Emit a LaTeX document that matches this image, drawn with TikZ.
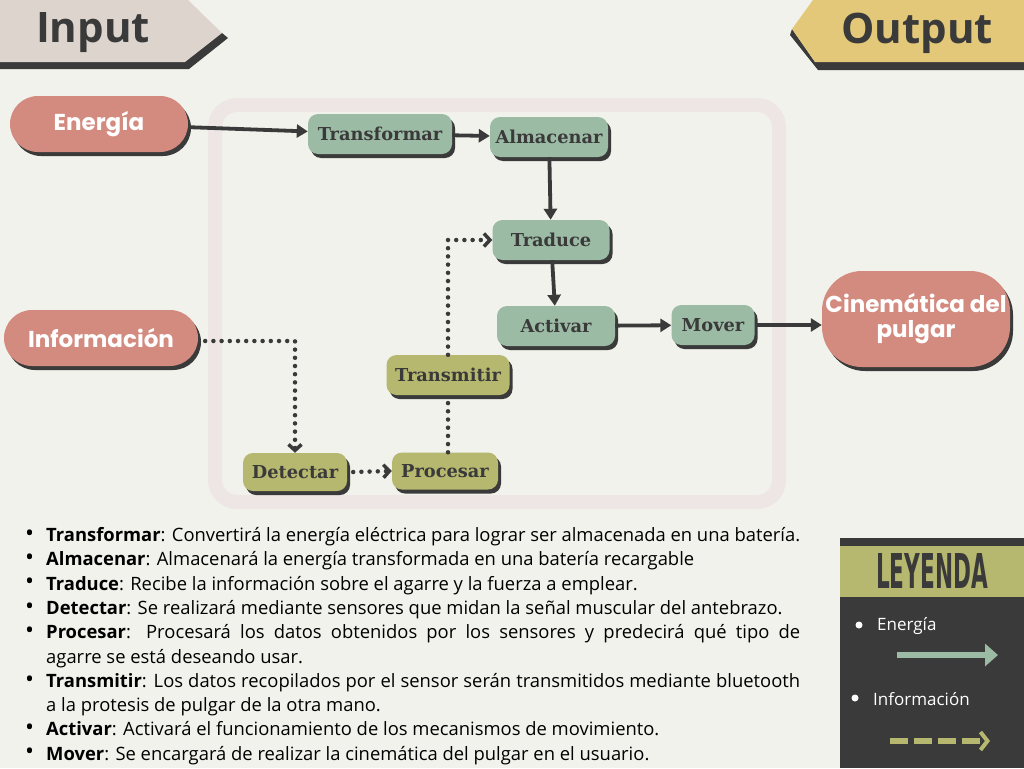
\documentclass[tikz,border=0pt]{standalone}
\usepackage{fontspec}
\setmainfont{Open Sans}
\newfontfamily\pillfont{Poppins}
\newfontfamily\boxfont{DejaVu Serif}
\newfontfamily\headfont{Open Sans}
\newfontfamily\legfont{DejaVu Sans}
\usetikzlibrary{arrows.meta,shadows,positioning}
\definecolor{bg}{HTML}{F2F2EC}
\definecolor{inputcol}{HTML}{DDD5CD}
\definecolor{outputcol}{HTML}{E2C878}
\definecolor{dark}{HTML}{3A3A3A}
\definecolor{salmon}{HTML}{D38A7F}
\definecolor{greenbox}{HTML}{9CBBA5}
\definecolor{olivebox}{HTML}{B6B86F}
\definecolor{framecol}{HTML}{EEE5E5}
\begin{document}
\begin{tikzpicture}[x=1pt,y=-1pt,
  shad/.style={drop shadow={shadow xshift=3pt,shadow yshift=-4pt,fill=dark,opacity=1}},
  pill/.style={shad,fill=salmon,text=white,inner sep=0pt,
    font=\pillfont\bfseries\fontsize{23}{27}\selectfont},
  procbox/.style={shad,rounded corners=10pt,text=dark,inner sep=0pt,minimum height=40pt,
    font=\boxfont\bfseries\fontsize{17.8}{21}\selectfont},
  ebox/.style={procbox,fill=greenbox},
  ibox/.style={procbox,fill=olivebox},
  earrow/.style={draw=dark,line width=3.8pt,-{Triangle[length=11pt,width=13pt]}},
  iline/.style={draw=dark,line width=4.5pt,line cap=round,dash pattern=on 0pt off 8.2pt},
  iarrow/.style={iline,-{Straight Barb[length=6pt,width=13pt,line width=3.5pt]}},
  headtxt/.style={text=dark,font=\headfont\bfseries\fontsize{42}{46}\selectfont,inner sep=0pt}
]
\useasboundingbox (0,0) rectangle (1024,768);
\fill[bg] (0,0) rectangle (1024,768);

% banners
\fill[dark] (0,50) -- (185,50) -- (222,33) -- (228,38) -- (189,69) -- (0,69) -- cycle;
\fill[inputcol] (0,0) -- (188,0) -- (222,33) -- (185,62) -- (0,62) -- cycle;
\node[headtxt] (input) at (93,33) {Input};
\fill[dark] (792,29) -- (815,62) -- (1024,62) -- (1024,70) -- (818,70) -- (790,35) -- cycle;
\fill[outputcol] (1024,0) -- (813,0) -- (792,29) -- (815,62) -- (1024,62) -- cycle;
\node[headtxt] (output) at (917,33) {Output};

% frame
\draw[framecol,line width=14pt,rounded corners=22pt] (215,105) rectangle (779,502);

% pills
\node[pill,minimum width=178pt,minimum height=56pt,rounded corners=28pt] (energia) at (99,124) {Energía};
\node[pill,minimum width=194pt,minimum height=56pt,rounded corners=28pt] (informacion) at (101,338) {Información};
\node[pill,minimum width=188pt,minimum height=96pt,rounded corners=40pt,align=center] (cinematica) at (916,319) {Cinemática del\\[-2pt]pulgar};

% process boxes
\node[ebox,minimum width=144pt] (transformar) at (380,134) {Transformar};
\node[ebox,minimum width=118pt] (almacenar) at (549,137) {Almacenar};
\node[ebox,minimum width=117pt] (traduce) at (551,240) {Traduce};
\node[ebox,minimum width=118pt] (activar) at (556,326) {Activar};
\node[ebox,minimum width=83pt] (mover) at (713,325) {Mover};
\node[ibox,minimum width=123pt] (transmitir) at (448,375) {Transmitir};
\node[ibox,minimum width=104pt,minimum height=38pt] (detectar) at (295,472) {\raisebox{-2pt}{Detectar}};
\node[ibox,minimum width=106pt,minimum height=37pt] (procesar) at (445,471) {Procesar};

% energy connectors
\draw[earrow] (energia) -- (transformar);
\draw[earrow] (transformar) -- (almacenar);
\draw[earrow] (almacenar) -- (traduce);
\draw[earrow] (traduce) -- (activar);
\draw[earrow] (activar) -- (mover);
\draw[earrow] (mover.east) -- (mover.east -| cinematica.west);

% information connectors
\coordinate (infostart) at ([xshift=7pt,yshift=-3pt]informacion.east);
\draw[iarrow] (infostart) -| (detectar.north);
\draw[iarrow] ([xshift=6pt]detectar.east) -- (procesar.west);
\draw[iline] (transmitir.south |- procesar.north) -- (transmitir.south);
\draw[iarrow] (transmitir.north) |- (traduce.west);

% description list
\node[anchor=north west,inner sep=0pt,text width=775pt,align=justify,text=black,
  font=\fontsize{18.4}{24.3}\selectfont] (desc) at (25,517) {%
\hyphenpenalty=10000
\def\itm{\par\noindent\hangindent=21pt\hangafter=1\makebox[21pt][l]{\hspace{0pt}\raisebox{0.3pt}{\scalebox{1.3}{\textbullet}}}}%
\itm\textbf{Transformar}: Convertirá la energía eléctrica para lograr ser almacenada en una batería.
\itm\textbf{Almacenar}: Almacenará la energía transformada en una batería recargable
\itm\textbf{Traduce}: Recibe la información sobre el agarre y la fuerza a emplear.
\itm\textbf{Detectar}: Se realizará mediante sensores que midan la señal muscular del antebrazo.
\itm\textbf{Procesar}: Procesará los datos obtenidos por los sensores y predecirá qué tipo de\linebreak agarre se está deseando usar.
\itm\textbf{Transmitir}: Los datos recopilados por el sensor serán transmitidos mediante bluetooth\linebreak a la protesis de pulgar de la otra mano.
\itm\textbf{Activar}: Activará el funcionamiento de los mecanismos de movimiento.
\itm\textbf{Mover}: Se encargará de realizar la cinemática del pulgar en el usuario.\par};

% legend
\fill[dark] (840,538) rectangle (1024,768);
\fill[olivebox] (840,546) rectangle (1024,597);
\node[text=dark,inner sep=0pt] (leyenda) at (932,571) {\scalebox{0.45}[1]{\legfont\bfseries\fontsize{48}{50}\selectfont LEYENDA}};
\fill[white] (859,625) circle (3.5pt);
\node[anchor=west,text=white,inner sep=0pt,font=\fontsize{17}{20}\selectfont] (legE) at (877,626) {Energía};
\coordinate (legEa) at (897,655);
\coordinate (legEb) at (998,655);
\draw[greenbox,line width=6pt,-{Triangle[length=13pt,width=22pt]}] (legEa) -- (legEb);
\fill[white] (855,698) circle (3.5pt);
\node[anchor=west,text=white,inner sep=0pt,font=\fontsize{17}{20}\selectfont] (legI) at (873,699) {Información};
\coordinate (legIa) at (890,741);
\coordinate (legIb) at (990,741);
\draw[olivebox,line width=6pt,dash pattern=on 18pt off 6pt,-{Straight Barb[length=7pt,width=18pt,line width=4pt]}] (legIa) -- (legIb);
\end{tikzpicture}
\end{document}
